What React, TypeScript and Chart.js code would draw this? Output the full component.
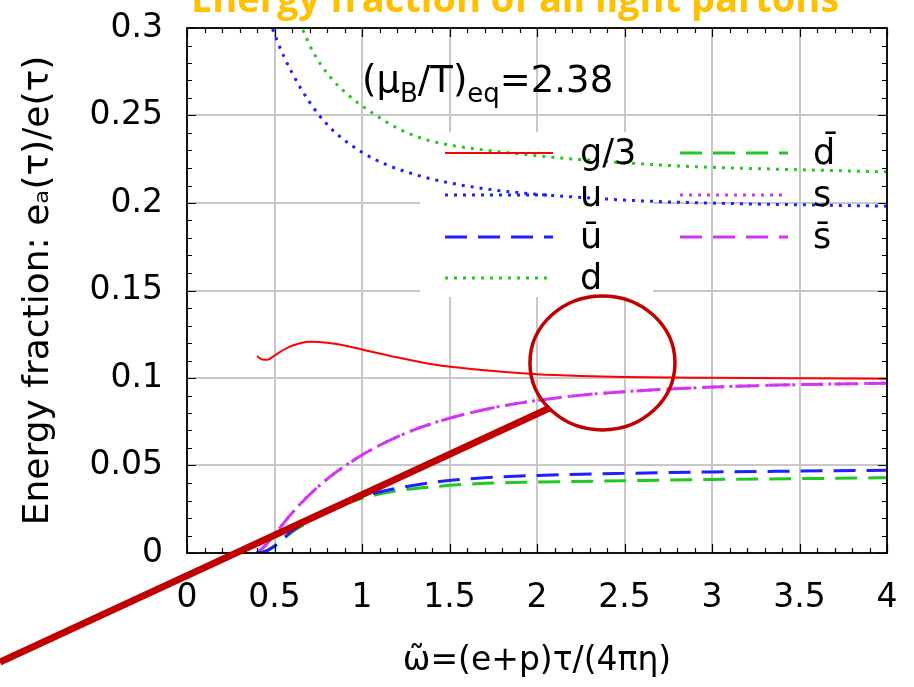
import { useEffect, useRef } from "react";
import { Chart, registerables } from "chart.js";

Chart.register(...registerables);

// ---------- data ----------
const X_TICKS = [0, 0.5, 1, 1.5, 2, 2.5, 3, 3.5, 4];
const Y_TICKS = [0, 0.05, 0.1, 0.15, 0.2, 0.25, 0.3];

const g3X = [0.4, 0.43, 0.46, 0.5, 0.55, 0.6, 0.7, 0.8, 0.9, 1.0, 1.2, 1.43, 1.75, 2.0, 2.25, 2.5, 3.0, 3.5, 4.0];
const g3Y = [0.1125, 0.1106, 0.1105, 0.1128, 0.116, 0.1184, 0.1207, 0.1202, 0.1186, 0.1163, 0.1118, 0.1074, 0.104, 0.1022, 0.1012, 0.1006, 0.1001, 0.0998, 0.0996];

const uX = [0.45, 0.486, 0.55, 0.65, 0.75, 0.85, 1.0, 1.15, 1.33, 1.5, 1.75, 2.0, 2.25, 2.6, 3.15, 3.5, 4.0];
const uY = [0.309, 0.3, 0.2845, 0.2655, 0.2508, 0.24, 0.229, 0.2215, 0.2155, 0.2115, 0.2075, 0.205, 0.2032, 0.2012, 0.1996, 0.199, 0.1982];

const ubarX = [0.4, 0.45, 0.5, 0.6, 0.7, 0.8, 1.0, 1.2, 1.4, 1.7, 2.0, 2.5, 3.0, 3.5, 4.0];
const ubarY = [0, 0.001, 0.004, 0.0125, 0.019, 0.025, 0.0322, 0.037, 0.0403, 0.043, 0.0443, 0.0455, 0.0463, 0.0468, 0.0473];

const dX = [0.6, 0.657, 0.724, 0.82, 0.93, 1.06, 1.22, 1.37, 1.52, 1.68, 2.0, 2.2, 2.8, 3.35, 4.0];
const dY = [0.313, 0.3, 0.2857, 0.2718, 0.261, 0.2514, 0.2419, 0.2361, 0.2328, 0.2305, 0.227, 0.2252, 0.2212, 0.2194, 0.2178];

const dbarX = [0.4, 0.45, 0.5, 0.6, 0.7, 0.8, 1.0, 1.2, 1.4, 1.7, 2.0, 2.5, 3.0, 3.5, 4.0];
const dbarY = [0, 0.001, 0.0038, 0.012, 0.018, 0.0238, 0.0312, 0.0355, 0.0378, 0.0398, 0.0405, 0.0413, 0.042, 0.0425, 0.043];

const sX = [0.4, 0.45, 0.5, 0.6, 0.7, 0.8, 0.9, 1.0, 1.15, 1.3, 1.5, 1.75, 2.0, 2.25, 2.5, 3.0, 3.5, 4.0];
const sY = [0, 0.0045, 0.0105, 0.0228, 0.0333, 0.0422, 0.0495, 0.056, 0.064, 0.0705, 0.077, 0.083, 0.0872, 0.0902, 0.0922, 0.0948, 0.0962, 0.097];

const sbarX = [0.4, 0.45, 0.5, 0.6, 0.7, 0.8, 0.9, 1.0, 1.15, 1.3, 1.5, 1.75, 2.0, 2.25, 2.5, 3.0, 3.5, 4.0];
const sbarY = [0, 0.0045, 0.0105, 0.0228, 0.0333, 0.0422, 0.0495, 0.056, 0.064, 0.0705, 0.077, 0.083, 0.0872, 0.0902, 0.0922, 0.0948, 0.0962, 0.097];

const LABELS_LEFT = ["g/3", "u", "\u016B", "d"];
const LABELS_RIGHT = ["d\u0304", "s", "s\u0304"];

const TITLE = "Energy fraction of all light partons";
const X_TITLE = "\u03C9\u0303=(e+p)\u03C4/(4\u03C0\u03B7)";
const Y_TITLE = "Energy fraction: e\u2090(\u03C4)/e(\u03C4)";

// overlay annotation in data units
const CIRCLE_CENTER = { x: 2.374, y: 0.1086 };
const LINE_FROM = { x: -1.069, y: -0.0623 };
const LINE_TO = { x: 2.074, y: 0.0829 };

const FONT = '"DejaVu Sans", sans-serif';
const RED = "#ff0000";
const BLUE = "#1f1fff";
const GREEN = "#22c822";
const MAGENTA = "#d236f2";
const DOT = [3, 6];
const DASH = [22, 11];

const pts = (xs: number[], ys: number[]) => xs.map((x, i) => ({ x, y: ys[i] }));
const fmt = (v: number) => String(+Number(v).toFixed(2));

const overlayPlugin = {
  id: "overlay",
  beforeDatasetsDraw(chart: any) {
    const { ctx, chartArea: a } = chart;
    ctx.save();
    ctx.fillStyle = "#ffffff";
    ctx.fillRect(a.left + 233, a.top + 104, 233, 165);
    ctx.restore();
  },
  afterDatasetsDraw(chart: any) {
    const { ctx, chartArea: a } = chart;
    const xs = chart.scales.x;
    const ys = chart.scales.y;
    ctx.save();
    // ticks on all sides
    ctx.strokeStyle = "#000";
    ctx.lineWidth = 1.2;
    ctx.beginPath();
    for (let i = 0; i <= 40; i++) {
      const px = Math.round(xs.getPixelForValue(i * 0.1)) + 0.5;
      const len = i % 5 === 0 ? 9 : 5;
      ctx.moveTo(px, a.bottom);
      ctx.lineTo(px, a.bottom - len);
      ctx.moveTo(px, a.top);
      ctx.lineTo(px, a.top + len);
    }
    for (let i = 0; i <= 30; i++) {
      const py = Math.round(ys.getPixelForValue(i * 0.01)) + 0.5;
      const len = i % 5 === 0 ? 9 : 5;
      ctx.moveTo(a.left, py);
      ctx.lineTo(a.left + len, py);
      ctx.moveTo(a.right, py);
      ctx.lineTo(a.right - len, py);
    }
    ctx.stroke();
    // frame
    ctx.lineWidth = 1.8;
    ctx.strokeRect(a.left, a.top, a.right - a.left, a.bottom - a.top);

    // legend
    const ds = chart.data.datasets;
    const rows = [125, 167, 209, 250];
    const drawEntry = (d: any, label: string, x0: number, x1: number, lx: number, y: number) => {
      ctx.save();
      ctx.strokeStyle = d.borderColor;
      ctx.lineWidth = d.borderWidth;
      ctx.setLineDash(d.borderDash || []);
      ctx.beginPath();
      ctx.moveTo(a.left + x0, a.top + y);
      ctx.lineTo(a.left + x1, a.top + y);
      ctx.stroke();
      ctx.restore();
      ctx.fillStyle = "#000";
      ctx.font = `35px ${FONT}`;
      ctx.textAlign = "left";
      ctx.textBaseline = "middle";
      ctx.fillText(label, a.left + lx, a.top + y + 2);
    };
    LABELS_LEFT.forEach((lab, i) => drawEntry(ds[i], lab, 258, 366, 393, rows[i]));
    LABELS_RIGHT.forEach((lab, i) => drawEntry(ds[4 + i], lab, 493, 601, 626, rows[i]));

    // annotation (mu_B/T)_eq = 2.38
    let x = a.left + 175;
    const base = a.top + 64;
    const part = (t: string, size: number, dy: number) => {
      ctx.font = `${size}px ${FONT}`;
      ctx.textBaseline = "alphabetic";
      ctx.fillText(t, x, base + dy);
      x += ctx.measureText(t).width;
    };
    ctx.fillStyle = "#000";
    part("(\u03BC", 37, 0);
    part("B", 26, 10);
    part("/T)", 37, 0);
    part("eq", 26, 10);
    part("=2.38", 37, 0);
    ctx.restore();
  },
  afterDraw(chart: any) {
    const { ctx } = chart;
    const xs = chart.scales.x;
    const ys = chart.scales.y;
    ctx.save();
    // title (cut at top)
    ctx.fillStyle = "#FFC000";
    ctx.font = `bold 38px "Open Sans", sans-serif`;
    ctx.textAlign = "center";
    ctx.textBaseline = "alphabetic";
    ctx.fillText(TITLE, 515, 12);
    // red overlay circle + pointer line
    ctx.strokeStyle = "#c00000";
    ctx.lineWidth = 3.5;
    ctx.beginPath();
    ctx.ellipse(xs.getPixelForValue(CIRCLE_CENTER.x), ys.getPixelForValue(CIRCLE_CENTER.y), 72.5, 67, 0, 0, Math.PI * 2);
    ctx.stroke();
    ctx.lineWidth = 7;
    ctx.beginPath();
    ctx.moveTo(xs.getPixelForValue(LINE_FROM.x), ys.getPixelForValue(LINE_FROM.y));
    ctx.lineTo(xs.getPixelForValue(LINE_TO.x), ys.getPixelForValue(LINE_TO.y));
    ctx.stroke();
    ctx.restore();
  },
};

export default function App() {
  const ref = useRef<HTMLCanvasElement | null>(null);
  useEffect(() => {
    if (!ref.current) return;
    const line = (data: any, color: string, width: number, dash: number[]) => ({
      data,
      borderColor: color,
      borderWidth: width,
      borderDash: dash,
      borderCapStyle: "butt",
      pointRadius: 0,
      fill: false,
      cubicInterpolationMode: "monotone",
    });
    const chart = new Chart(ref.current, {
      type: "line",
      data: {
        datasets: [
          line(pts(g3X, g3Y), RED, 2, []),
          line(pts(uX, uY), BLUE, 3, DOT),
          line(pts(ubarX, ubarY), BLUE, 3, DASH),
          line(pts(dX, dY), GREEN, 3, DOT),
          line(pts(dbarX, dbarY), GREEN, 3, DASH),
          line(pts(sX, sY), MAGENTA, 3, DOT),
          line(pts(sbarX, sbarY), MAGENTA, 3, DASH),
        ] as any,
      },
      options: {
        animation: false,
        responsive: false,
        layout: { padding: 0 },
        plugins: { legend: { display: false }, tooltip: { enabled: false }, title: { display: false } },
        elements: { point: { radius: 0 } },
        scales: {
          x: {
            type: "linear",
            min: 0,
            max: 4,
            afterBuildTicks: (s: any) => {
              s.ticks = X_TICKS.map((v) => ({ value: v }));
            },
            afterFit: (s: any) => {
              s.height = 134;
              s.paddingLeft = 0;
              s.paddingRight = 27;
            },
            ticks: {
              font: { family: FONT, size: 33 },
              color: "#000",
              padding: 26,
              maxRotation: 0,
              autoSkip: false,
              callback: (v: any) => fmt(v),
            },
            grid: { color: "#c8c8c8", lineWidth: 2, drawTicks: false },
            border: { display: false },
            title: {
              display: true,
              text: X_TITLE,
              font: { family: FONT, size: 33 },
              color: "#000",
              padding: { top: 0, bottom: 6 },
            },
          },
          y: {
            type: "linear",
            min: 0,
            max: 0.3,
            afterBuildTicks: (s: any) => {
              s.ticks = Y_TICKS.map((v) => ({ value: v }));
            },
            afterFit: (s: any) => {
              s.width = 187;
              s.paddingTop = 28;
              s.paddingBottom = 0;
            },
            ticks: {
              font: { family: FONT, size: 33 },
              color: "#000",
              padding: 24,
              autoSkip: false,
              callback: (v: any) => fmt(v),
            },
            grid: { color: "#c8c8c8", lineWidth: 2, drawTicks: false },
            border: { display: false },
            title: {
              display: true,
              text: Y_TITLE,
              font: { family: FONT, size: 36 },
              color: "#000",
              padding: { top: 17, bottom: 0 },
            },
          },
        },
      } as any,
      plugins: [overlayPlugin],
    });
    return () => chart.destroy();
  }, []);
  return (
    <canvas
      ref={ref}
      width={914}
      height={687}
      style={{ position: "absolute", left: 0, top: 0, display: "block" }}
    />
  );
}
